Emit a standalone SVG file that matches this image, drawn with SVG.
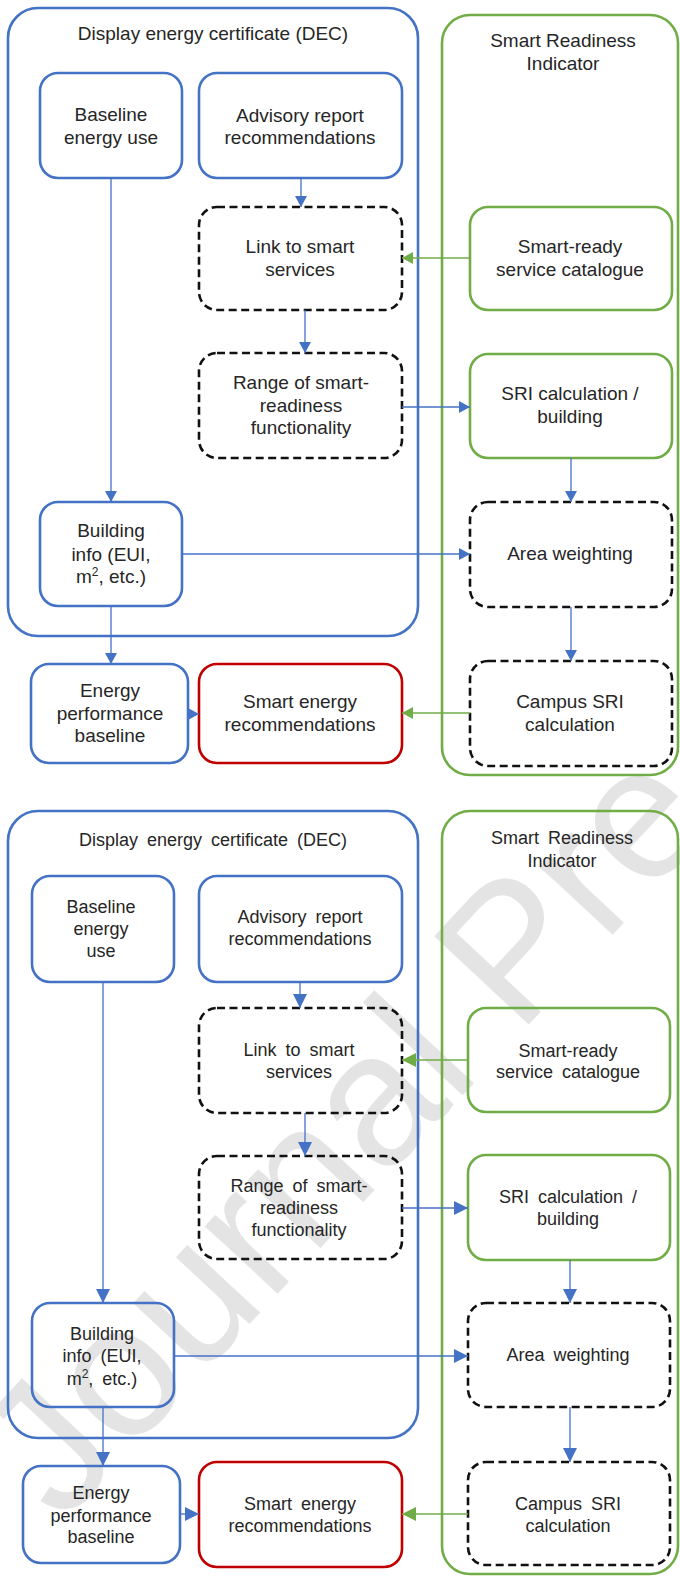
<svg xmlns="http://www.w3.org/2000/svg" width="680" height="1578" viewBox="0 0 680 1578">
<style>
.box{fill:none;stroke-width:2.6}
.blue{stroke:#4472C4}
.green{stroke:#70AD47}
.red{stroke:#C00000}
.dash{stroke:#111;stroke-dasharray:8 4.5}
.t{font-family:"Liberation Sans",Arial,sans-serif;font-size:19px;fill:#262626;text-anchor:middle}
.t2{font-family:"Liberation Sans",Arial,sans-serif;font-size:18px;fill:#262626;text-anchor:middle;word-spacing:4px}
.cb{stroke:#4472C4;stroke-width:1.3;fill:none}
.cg{stroke:#70AD47;stroke-width:1.3;fill:none}
.wm{font-family:"Liberation Sans",Arial,sans-serif;font-size:188px;fill:#e4e4e4}
</style>
<defs>
<marker id="ab" markerUnits="userSpaceOnUse" markerWidth="12" markerHeight="12" refX="11" refY="6" orient="auto"><path d="M0,0 L11,6 L0,12 z" fill="#4472C4"/></marker>
<marker id="ag" markerUnits="userSpaceOnUse" markerWidth="12" markerHeight="12" refX="11" refY="6" orient="auto"><path d="M0,0 L11,6 L0,12 z" fill="#70AD47"/></marker>
<marker id="ab2" markerUnits="userSpaceOnUse" markerWidth="14" markerHeight="14" refX="14" refY="7" orient="auto"><path d="M0,0 L14,7 L0,14 z" fill="#4472C4"/></marker>
<marker id="ag2" markerUnits="userSpaceOnUse" markerWidth="14" markerHeight="14" refX="14" refY="7" orient="auto"><path d="M0,0 L14,7 L0,14 z" fill="#70AD47"/></marker>
</defs>
<rect width="680" height="1578" fill="#fff"/>
<text class="wm" transform="translate(62,1525) rotate(-47)">Journal Pre</text>

<!-- ===== Top diagram ===== -->
<g id="dec-container-1">
<rect class="box blue" x="8" y="8" width="410" height="628" rx="30"/>
<text class="t" x="213" y="40">Display energy certificate (DEC)</text>
</g>
<g id="sri-container-1">
<rect class="box green" x="442" y="15" width="236" height="760" rx="28"/>
<text class="t" x="563" y="47">Smart Readiness</text>
<text class="t" x="563" y="70">Indicator</text>
</g>
<g id="baseline-1">
<rect class="box blue" x="40" y="73" width="142" height="105" rx="18"/>
<text class="t" x="111" y="121">Baseline</text>
<text class="t" x="111" y="144">energy use</text>
</g>
<g id="advisory-1">
<rect class="box blue" x="199" y="73" width="203" height="105" rx="18"/>
<text class="t" x="300" y="122">Advisory report</text>
<text class="t" x="300" y="144">recommendations</text>
</g>
<g id="link-1">
<rect class="box dash" x="199" y="207" width="203" height="103" rx="18"/>
<text class="t" x="300" y="253">Link to smart</text>
<text class="t" x="300" y="276">services</text>
</g>
<g id="smartready-1">
<rect class="box green" x="470" y="207" width="202" height="103" rx="18"/>
<text class="t" x="570" y="253">Smart-ready</text>
<text class="t" x="570" y="276">service catalogue</text>
</g>
<g id="range-1">
<rect class="box dash" x="199" y="353" width="203" height="105" rx="18"/>
<text class="t" x="301" y="389">Range of smart-</text>
<text class="t" x="301" y="412">readiness</text>
<text class="t" x="301" y="434">functionality</text>
</g>
<g id="sricalc-1">
<rect class="box green" x="470" y="354" width="202" height="104" rx="18"/>
<text class="t" x="570" y="400">SRI calculation /</text>
<text class="t" x="570" y="423">building</text>
</g>
<g id="building-1">
<rect class="box blue" x="40" y="502" width="142" height="104" rx="18"/>
<text class="t" x="111" y="537">Building</text>
<text class="t" x="111" y="561">info (EUI,</text>
<text class="t" x="111" y="583">m<tspan font-size="12" dy="-7">2</tspan><tspan dy="7">, etc.)</tspan></text>
</g>
<g id="area-1">
<rect class="box dash" x="470" y="502" width="202" height="105" rx="18"/>
<text class="t" x="570" y="560">Area weighting</text>
</g>
<g id="campus-1">
<rect class="box dash" x="470" y="661" width="202" height="105" rx="18"/>
<text class="t" x="570" y="708">Campus SRI</text>
<text class="t" x="570" y="731">calculation</text>
</g>
<g id="ep-1">
<rect class="box blue" x="31" y="664" width="157" height="99" rx="18"/>
<text class="t" x="110" y="697">Energy</text>
<text class="t" x="110" y="720">performance</text>
<text class="t" x="110" y="742">baseline</text>
</g>
<g id="ser-1">
<rect class="box red" x="199" y="664" width="203" height="99" rx="18"/>
<text class="t" x="300" y="708">Smart energy</text>
<text class="t" x="300" y="731">recommendations</text>
</g>

<!-- ===== Bottom diagram ===== -->
<g id="dec-container-2">
<rect class="box blue" x="8" y="811" width="410" height="627" rx="30"/>
<text class="t2" x="213" y="846">Display energy certificate (DEC)</text>
</g>
<g id="sri-container-2">
<rect class="box green" x="442" y="811" width="236" height="763" rx="28"/>
<text class="t2" x="562" y="844">Smart Readiness</text>
<text class="t2" x="562" y="867">Indicator</text>
</g>
<g id="baseline-2">
<rect class="box blue" x="32" y="876" width="142" height="106" rx="18"/>
<text class="t2" x="101" y="913">Baseline</text>
<text class="t2" x="101" y="935">energy</text>
<text class="t2" x="101" y="957">use</text>
</g>
<g id="advisory-2">
<rect class="box blue" x="199" y="876" width="203" height="106" rx="18"/>
<text class="t2" x="300" y="923">Advisory report</text>
<text class="t2" x="300" y="945">recommendations</text>
</g>
<g id="link-2">
<rect class="box dash" x="199" y="1008" width="203" height="105" rx="18"/>
<text class="t2" x="299" y="1056">Link to smart</text>
<text class="t2" x="299" y="1078">services</text>
</g>
<g id="smartready-2">
<rect class="box green" x="468" y="1008" width="202" height="104" rx="18"/>
<text class="t2" x="568" y="1057">Smart-ready</text>
<text class="t2" x="568" y="1078">service catalogue</text>
</g>
<g id="range-2">
<rect class="box dash" x="199" y="1156" width="203" height="103" rx="18"/>
<text class="t2" x="299" y="1192">Range of smart-</text>
<text class="t2" x="299" y="1214">readiness</text>
<text class="t2" x="299" y="1236">functionality</text>
</g>
<g id="sricalc-2">
<rect class="box green" x="468" y="1155" width="202" height="105" rx="18"/>
<text class="t2" x="568" y="1203">SRI calculation /</text>
<text class="t2" x="568" y="1225">building</text>
</g>
<g id="building-2">
<rect class="box blue" x="32" y="1303" width="142" height="104" rx="18"/>
<text class="t2" x="102" y="1340">Building</text>
<text class="t2" x="102" y="1362">info (EUI,</text>
<text class="t2" x="102" y="1385">m<tspan font-size="12" dy="-7">2</tspan><tspan dy="7">, etc.)</tspan></text>
</g>
<g id="area-2">
<rect class="box dash" x="468" y="1303" width="202" height="104" rx="18"/>
<text class="t2" x="568" y="1361">Area weighting</text>
</g>
<g id="campus-2">
<rect class="box dash" x="468" y="1462" width="202" height="103" rx="18"/>
<text class="t2" x="568" y="1510">Campus SRI</text>
<text class="t2" x="568" y="1532">calculation</text>
</g>
<g id="ep-2">
<rect class="box blue" x="23" y="1466" width="157" height="97" rx="18"/>
<text class="t2" x="101" y="1499">Energy</text>
<text class="t2" x="101" y="1522">performance</text>
<text class="t2" x="101" y="1543">baseline</text>
</g>
<g id="ser-2">
<rect class="box red" x="199" y="1462" width="203" height="105" rx="18"/>
<text class="t2" x="300" y="1510">Smart energy</text>
<text class="t2" x="300" y="1532">recommendations</text>
</g>

<g id="connectors">
<path class="cb" d="M301,178 V207" marker-end="url(#ab)"/>
<path class="cb" d="M305,310 V353" marker-end="url(#ab)"/>
<path class="cb" d="M111,178 V502" marker-end="url(#ab)"/>
<path class="cb" d="M402,407 H470" marker-end="url(#ab)"/>
<path class="cb" d="M182,554 H470" marker-end="url(#ab)"/>
<path class="cb" d="M571,458 V502" marker-end="url(#ab)"/>
<path class="cb" d="M571,607 V661" marker-end="url(#ab)"/>
<path class="cg" d="M470,258 H402" marker-end="url(#ag)"/>
<path class="cg" d="M470,713 H402" marker-end="url(#ag)"/>
<path class="cb" d="M111,606 V664" marker-end="url(#ab)"/>
<path class="cb" d="M188,714 H199" marker-end="url(#ab)"/>

<path class="cb" d="M300,982 V1008" marker-end="url(#ab2)"/>
<path class="cb" d="M305,1113 V1156" marker-end="url(#ab2)"/>
<path class="cb" d="M103,982 V1303" marker-end="url(#ab2)"/>
<path class="cb" d="M402,1208 H468" marker-end="url(#ab2)"/>
<path class="cb" d="M174,1356 H468" marker-end="url(#ab2)"/>
<path class="cb" d="M570,1260 V1303" marker-end="url(#ab2)"/>
<path class="cb" d="M570,1407 V1462" marker-end="url(#ab2)"/>
<path class="cg" d="M468,1060 H402" marker-end="url(#ag2)"/>
<path class="cg" d="M468,1514 H402" marker-end="url(#ag2)"/>
<path class="cb" d="M103,1407 V1466" marker-end="url(#ab2)"/>
<path class="cb" d="M180,1514 H199" marker-end="url(#ab2)"/>
</g>
</svg>
